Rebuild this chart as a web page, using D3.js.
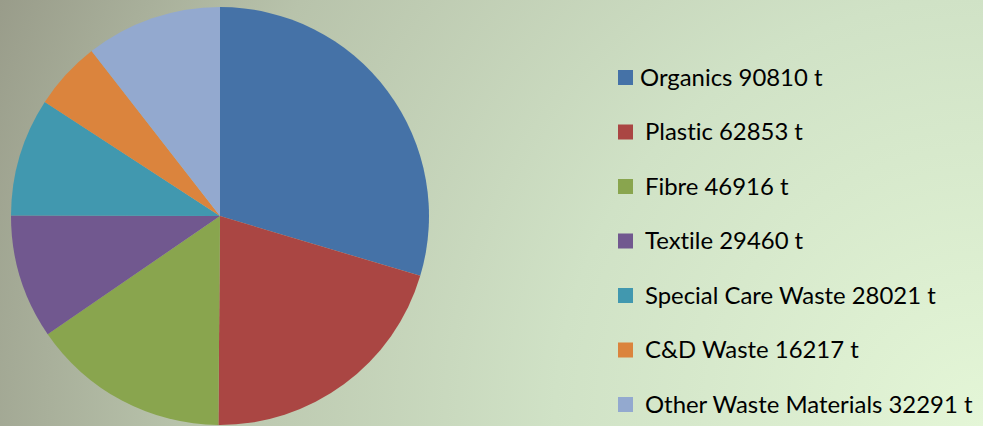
<!doctype html>
<html>
<head>
<meta charset="UTF-8">
<title>waste pie</title>
<script src="https://cdn.jsdelivr.net/npm/d3@7"></script>
<style>
  body{ margin:0; }
  svg{ display:block; }
  text{ font-variant-ligatures: none; }
</style>
</head>
<body>
<svg width="983" height="426" id="chart"></svg>
<script>
var categories = ["Organics", "Plastic", "Fibre", "Textile", "Special Care Waste", "C&D Waste", "Other Waste Materials"];
var tonnes = [90810, 62853, 46916, 29460, 28021, 16217, 32291];
var colors = ["#4572a7", "#aa4643", "#89a54e", "#71588f", "#4198af", "#db843d", "#93a9cf"];

var W = 983, H = 426;
var svg = d3.select("#chart");

// background
var defs = svg.append("defs");
var grad = defs.append("radialGradient")
    .attr("id", "bg")
    .attr("gradientUnits", "userSpaceOnUse")
    .attr("cx", W).attr("cy", H).attr("r", 1071);
grad.append("stop").attr("offset", "0").attr("stop-color", "#e4f6d7");
grad.append("stop").attr("offset", "0.4").attr("stop-color", "#d0e2c6");
grad.append("stop").attr("offset", "0.75").attr("stop-color", "#b8c3ab");
grad.append("stop").attr("offset", "1").attr("stop-color", "#999c8a");
svg.append("rect").attr("width", W).attr("height", H).attr("fill", "url(#bg)");

// pie
var cx = 220, cy = 216, r = 209;
var pie = d3.pie().sort(null).value(function(d){ return d; });
var arc = d3.arc().innerRadius(0).outerRadius(r);
var g = svg.append("g").attr("transform", "translate(" + cx + "," + cy + ")");
g.selectAll("path")
    .data(pie(tonnes))
    .enter()
    .append("path")
    .attr("d", arc)
    .attr("fill", function(d, i){ return colors[i]; });

// legend
var y = d3.scalePoint().domain(categories).range([77.5, 404.5]);
var leg = svg.append("g");
var item = leg.selectAll("g.item")
    .data(categories)
    .enter()
    .append("g")
    .attr("class", "item")
    .attr("transform", function(d){ return "translate(618," + y(d) + ")"; });
item.append("rect")
    .attr("x", 0).attr("y", -7.5)
    .attr("width", 15).attr("height", 15)
    .attr("fill", function(d, i){ return colors[i]; });
item.append("text")
    .attr("x", function(d, i){ return i == 0 ? 22 : 27; })
    .attr("y", 8)
    .attr("font-family", "Lato, 'Open Sans', sans-serif")
    .attr("font-size", 23.9)
    .attr("fill", "#000")
    .text(function(d, i){ return d + " " + tonnes[i] + " t"; });
</script>
</body>
</html>
